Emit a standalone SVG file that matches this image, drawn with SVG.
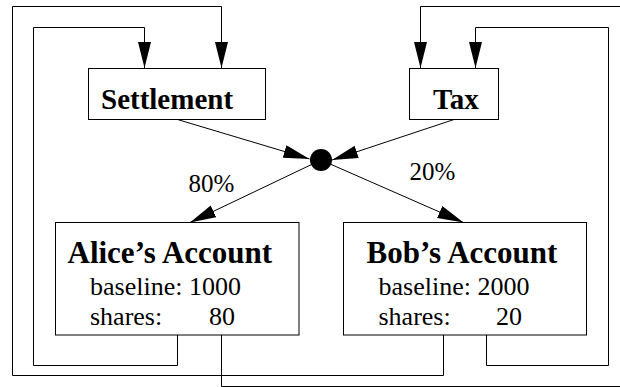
<svg xmlns="http://www.w3.org/2000/svg" width="620" height="387" viewBox="0 0 620 387">
<style>
.box{fill:#fff;stroke:#000;stroke-width:1}
.ln{fill:none;stroke:#000;stroke-width:1}
.h{font-family:'Liberation Serif','Times New Roman',serif;font-weight:bold;font-size:29px;fill:#000}
.ha{font-family:'Liberation Serif','Times New Roman',serif;font-weight:bold;font-size:31px;fill:#000}
.t{font-family:'Liberation Serif','Times New Roman',serif;font-size:26px;fill:#000}
.lb{font-family:'Liberation Serif','Times New Roman',serif;font-size:25px;fill:#000}
</style>
<defs>
<marker id="ah" markerUnits="userSpaceOnUse" markerWidth="28" markerHeight="14" refX="26" refY="6.5" orient="auto">
<path d="M0,0 L26,6.5 L0,13 z" fill="#000"/>
</marker>
</defs>
<rect width="620" height="387" fill="#fff"/>
<g id="connectors">
<path class="ln" d="M177.5,335 V365.5 H33.5 V27.5 H144.5 V68" marker-end="url(#ah)"/>
<path class="ln" d="M443.5,335 V375.5 H12.5 V6.5 H221.5 V68" marker-end="url(#ah)"/>
<path class="ln" d="M221.5,335 V386.5 H625 V6.5 H420.5 V68" marker-end="url(#ah)"/>
<path class="ln" d="M486.5,335 V365.5 H608.5 V27.5 H475.5 V68" marker-end="url(#ah)"/>
<path class="ln" d="M177.5,119.5 L309.5,159" marker-end="url(#ah)"/>
<path class="ln" d="M454,119.5 L332,160" marker-end="url(#ah)"/>
<path class="ln" d="M321,160 L190,222.5" marker-end="url(#ah)"/>
<path class="ln" d="M321,160 L463.5,222.5" marker-end="url(#ah)"/>
<text class="lb" x="188.5" y="192">80%</text>
<text class="lb" x="409.5" y="180">20%</text>
</g>
<g id="split">
<circle cx="321" cy="160" r="11" fill="#000"/>
</g>
<g id="settlement">
<rect class="box" x="88.5" y="68.5" width="177" height="51"/>
<text class="h" x="101" y="109.3">Settlement</text>
</g>
<g id="tax">
<rect class="box" x="409.5" y="68.5" width="89" height="51"/>
<text class="h" x="433" y="109.3">Tax</text>
</g>
<g id="alice">
<rect class="box" x="55.5" y="222.5" width="243.5" height="112.5"/>
<text class="ha" x="67.5" y="263">Alice’s Account</text>
<text class="t" x="90" y="295">baseline: 1000</text>
<text class="t" x="90" y="325">shares:</text>
<text class="t" x="209" y="325">80</text>
</g>
<g id="bob">
<rect class="box" x="343.5" y="222.5" width="243" height="112.5"/>
<text class="ha" x="366.5" y="263">Bob’s Account</text>
<text class="t" x="378.5" y="295">baseline: 2000</text>
<text class="t" x="378.5" y="325">shares:</text>
<text class="t" x="496" y="325">20</text>
</g>
</svg>
